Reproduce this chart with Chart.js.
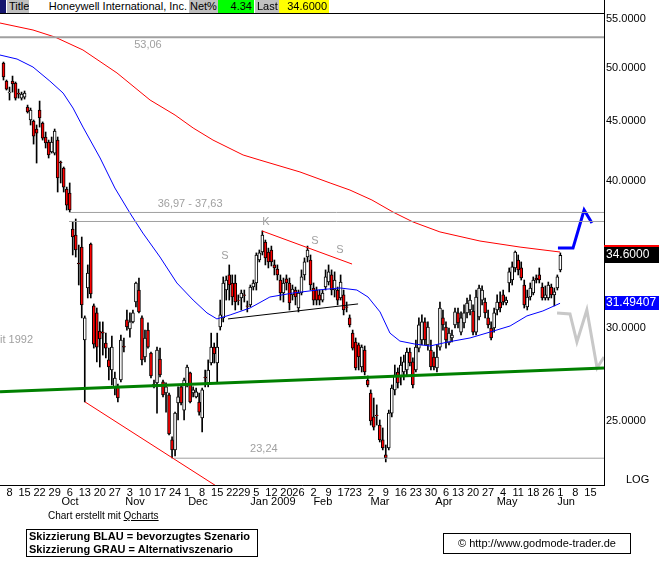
<!DOCTYPE html>
<html>
<head>
<meta charset="utf-8">
<script src="https://cdn.jsdelivr.net/npm/chart.js@4.4.0/dist/chart.umd.min.js"></script>
<style>
  body { margin: 0; background: #fff; font-family: "Liberation Sans", Arial, sans-serif; }
  #wrap { position: relative; width: 659px; height: 563px; overflow: hidden; background: #fff; }
  #c { position: absolute; left: 0; top: 0; }
  .tb { position: absolute; top: 0; height: 13px; font-size: 11px; line-height: 13px; white-space: nowrap; overflow: hidden; color: #000; }
  .gray { background: #c0c0c0; }
  .r { text-align: right; box-sizing: border-box; padding-right: 2px; }
  .abs { position: absolute; white-space: nowrap; color: #000; }
</style>
</head>
<body>
<div id="wrap">
  <canvas id="c" width="659" height="563" style="width:659px;height:563px"></canvas>

  <!-- quote bar -->
  <div class="tb" style="left:0;width:6px;background:#14146e"></div>
  <div class="tb gray" style="left:7px;width:22px;padding-left:2px;box-sizing:border-box">Title</div>
  <div class="tb r" style="left:29px;width:160px;background:#fff">Honeywell International, Inc.</div>
  <div class="tb gray" style="left:189px;width:29px;padding-left:1px;box-sizing:border-box">Net%</div>
  <div class="tb r" style="left:218px;width:36px;background:#00ff00">4.34</div>
  <div class="tb gray" style="left:255px;width:24px;padding-left:2px;box-sizing:border-box">Last</div>
  <div class="tb r" style="left:279px;width:50px;background:#ffff00">34.6000</div>
  <div class="abs" style="left:0;top:13px;width:604px;height:1px;background:#000"></div>

  <div class="abs" style="left:626px;top:473px;font-size:11px">LOG</div>
  <div class="abs" style="left:48px;top:510px;font-size:10px">Chart erstellt mit <u>Qcharts</u></div>
  <div class="abs" style="left:26px;top:529px;width:232px;height:28px;box-sizing:border-box;border:1px solid #000;font-size:11px;font-weight:bold;line-height:13px;padding-left:2px">Skizzierung BLAU = bevorzugtes Szenario<br>Skizzierung GRAU = Alternativszenario</div>
  <div class="abs" style="left:443px;top:533px;width:188px;height:21px;box-sizing:border-box;border:1px solid #000;font-size:11px;line-height:19px;text-align:center">&copy; http://www.godmode-trader.de</div>
</div>

<script>
// daily candles, Sep 4 2008 .. Jun 1 2009 (index = trading day)
const opens = [50.45,48.69,47.56,48.69,48.50,47.56,47.09,47.18,46.27,45.11,
  45.02,44.32,46.00,44.85,43.63,43.20,42.37,42.28,43.37,41.54,
  41.06,39.40,39.09,36.43,36.00,34.08,35.16,29.30,32.45,35.37,
  31.33,30.90,29.82,29.76,29.13,28.18,27.63,26.67,26.73,27.09,
  28.96,30.48,29.94,30.36,31.57,32.32,30.60,28.34,29.88,28.56,
  26.88,26.94,28.23,26.99,26.41,26.31,24.09,23.62,25.90,26.73,
  25.54,26.83,27.47,26.41,26.21,25.95,25.15,27.25,26.94,28.01,
  28.90,28.01,30.06,30.60,32.32,33.29,32.77,32.77,31.69,31.82,
  32.01,31.33,31.39,32.51,32.77,34.28,34.82,35.51,34.82,34.96,
  33.95,33.68,32.96,32.13,33.03,32.77,32.01,32.32,31.20,32.13,
  33.29,34.48,34.28,32.45,32.32,32.01,31.69,32.51,32.83,33.29,
  32.32,32.32,31.82,32.01,31.27,30.60,29.70,29.19,29.02,27.79,
  28.73,27.09,26.41,25.20,25.29,24.80,24.09,23.39,23.71,25.39,
  26.57,27.52,27.25,27.52,27.63,28.62,28.07,27.63,28.84,29.30,
  30.36,29.02,28.73,28.34,27.74,28.90,30.60,30.06,29.13,29.42,
  30.18,30.90,29.76,30.30,30.90,31.08,31.02,29.76,30.66,31.69,
  31.57,30.60,30.00,30.00,31.08,31.57,32.01,31.51,32.77,32.96,
  33.75,34.28,33.75,32.64,31.27,31.88,32.13,33.09,33.29,32.51,
  31.82,31.82,32.51,32.01,32.45,33.62];
const highs = [50.54,48.79,48.12,49.17,48.60,47.93,47.65,47.75,46.45,46.18,
  45.11,44.67,46.82,44.94,44.06,43.37,43.63,44.32,43.63,41.62,
  41.14,39.55,39.87,36.94,37.15,35.30,35.86,30.72,33.95,35.44,
  31.45,31.20,30.36,30.36,29.70,28.84,29.53,27.52,26.88,29.59,
  29.42,31.08,30.90,31.08,32.83,33.09,30.72,29.88,30.30,28.62,
  27.09,28.90,28.84,27.09,26.94,26.41,24.23,25.44,26.73,26.83,
  27.20,27.90,27.52,26.73,26.67,26.41,26.67,27.63,28.18,29.70,
  29.13,29.70,31.69,33.16,33.22,33.95,33.29,33.29,32.01,32.32,
  32.32,31.63,32.64,32.96,34.76,34.96,36.29,35.65,35.09,35.23,
  34.28,33.95,33.29,33.09,33.29,33.09,32.64,32.51,32.32,33.62,
  34.42,35.23,34.62,32.77,32.51,32.32,32.32,33.62,33.95,33.62,
  33.49,32.51,33.29,32.32,31.57,30.78,29.88,29.42,29.13,29.02,
  28.96,27.31,26.57,26.15,25.80,25.05,24.66,23.85,25.54,26.83,
  27.90,27.74,28.34,28.45,28.84,28.84,28.29,29.30,30.60,30.78,
  30.60,30.36,29.30,28.62,29.02,31.57,31.08,30.36,30.00,29.88,
  31.20,31.20,30.96,31.39,31.82,32.01,31.39,32.32,32.64,32.58,
  31.82,31.08,30.36,31.20,32.01,32.20,32.32,31.88,33.75,34.15,
  34.89,34.62,34.15,32.96,32.32,32.77,33.16,33.29,33.75,32.77,
  32.58,32.83,32.70,32.45,33.29,34.76];
const lows = [48.79,47.84,46.91,47.65,46.91,47.09,46.91,47.00,45.73,44.67,
  43.03,41.46,44.49,43.37,42.70,41.87,42.28,42.12,39.17,39.87,
  39.17,37.81,37.66,34.62,34.48,32.64,30.60,25.95,31.82,31.82,
  28.84,28.07,27.79,28.45,28.29,27.09,26.83,26.31,25.95,26.99,
  28.62,29.88,29.47,30.30,31.27,30.90,27.90,28.07,28.84,27.20,
  26.67,25.39,27.25,26.21,25.44,24.32,23.25,23.34,25.05,25.80,
  25.05,26.73,25.90,26.21,26.15,25.29,24.47,26.73,26.73,27.90,
  28.01,26.99,29.88,30.36,31.69,31.69,31.39,31.08,31.39,31.08,
  31.57,30.96,31.27,32.32,32.32,34.15,34.62,33.95,33.75,33.88,
  33.29,32.96,31.69,31.57,32.32,31.08,31.69,31.39,30.96,32.01,
  32.96,34.15,32.32,31.39,31.39,31.39,31.57,32.32,32.64,32.01,
  31.88,31.39,31.69,30.78,30.96,30.06,28.73,27.63,27.63,27.52,
  27.36,26.73,24.80,24.56,24.80,23.99,23.62,23.07,23.62,25.20,
  26.31,26.67,26.83,27.09,27.36,27.85,26.67,27.52,28.62,29.02,
  29.02,28.73,27.63,27.63,27.52,28.73,29.88,28.84,29.02,29.19,
  30.00,30.00,29.59,30.00,30.60,30.78,29.59,29.59,30.48,31.39,
  30.60,30.00,29.30,29.76,30.78,30.96,31.39,31.39,32.20,32.64,
  33.49,33.29,32.96,31.20,31.08,31.69,32.01,32.77,32.77,31.69,
  31.69,31.69,31.82,31.33,32.32,33.49];
const closes = [49.08,47.93,47.65,48.41,47.09,47.46,47.46,47.56,45.82,46.00,
  43.71,43.97,45.29,43.54,43.12,42.12,43.20,44.14,40.26,41.46,
  39.55,38.18,37.81,35.86,34.96,34.01,31.39,30.60,33.42,32.07,
  29.07,28.90,29.36,29.70,28.84,27.79,28.90,27.20,26.15,29.30,
  28.90,30.06,30.36,30.90,32.77,30.96,28.18,29.42,28.90,27.31,
  26.73,28.73,27.36,26.31,26.73,24.37,23.62,25.39,26.21,25.90,
  27.09,27.79,25.95,26.57,26.47,25.44,26.57,27.20,27.63,28.90,
  28.51,28.90,30.78,32.77,32.96,32.64,31.88,31.57,31.66,32.13,
  31.98,31.30,32.51,32.77,34.62,34.76,36.00,34.42,34.15,34.15,
  33.75,33.29,32.13,32.77,32.77,31.51,32.38,31.88,32.13,33.16,
  34.15,34.96,32.64,31.69,31.69,31.69,32.13,33.16,33.49,32.32,
  32.96,31.69,32.83,31.08,31.24,30.18,28.84,27.74,28.34,28.90,
  27.52,26.83,25.00,24.70,25.26,24.09,23.71,23.25,25.39,26.67,
  27.36,26.94,27.90,28.07,28.62,28.01,26.83,28.90,30.18,30.36,
  29.30,30.06,27.79,27.79,28.34,31.20,30.18,29.30,29.70,29.59,
  30.96,30.30,30.60,30.90,31.51,31.69,29.76,31.88,32.45,32.32,
  30.90,30.18,29.42,30.90,31.57,31.20,31.57,31.69,33.49,33.82,
  34.82,33.62,33.09,31.39,31.88,32.45,32.96,32.96,32.96,31.82,
  32.01,32.64,32.01,32.20,33.16,34.60];

// moving averages (day index, value)
const ma200Day = [-1.16,9.8,17.1,26.4,37.7,48.7,57,63,69.6,79.6,85.2,98.5,108.5,115.1,122.4,129.4,136,145,158.3,171.6,184.9];
const ma200Val = [54.56,53.82,53.08,51.75,49.47,46.91,45.55,44.41,43.37,42.12,41.70,40.74,39.87,39.32,38.56,37.66,36.94,36.22,35.58,35.16,34.82];
const ma50Day = [-1.16,4.5,9.8,15.4,19.8,23.1,26.4,32.1,37,42,46.3,52,57.6,63,67.6,70.9,75.3,81.9,88.5,96.2,104.2,111.8,117.4,121.1,125.1,128.4,131.7,136.7,141.7,147.7,155,161.6,168.3,173.9,179.2,184.9];
const ma50Val = [51.24,50.84,50.05,48.69,47.56,46.18,44.49,41.87,39.48,37.59,36.14,34.48,32.77,31.69,30.90,30.54,30.78,31.20,31.88,32.13,32.32,32.45,32.32,31.88,30.96,29.70,29.24,29.07,28.96,29.19,29.42,29.76,30.12,30.72,31.02,31.49];
const lastMa50 = 31.49407;

// drawn lines and sketches
const levelTop = 53.06, gapHigh = 37.63, gapLow = 36.97, levelLow = 23.24;
const supportDay = [-1.16, 199.5], supportVal = [26.47, 27.74];      // green
const fallDay = [27.1, 71], fallVal = [25.95, 21.98];                 // red, lower
const resistDay = [85.9, 115.8], resistVal = [36.29, 34.01];          // red, upper
const neckDay = [74.6, 117.8], neckVal = [30.54, 31.45];              // black
const blueDay = [184.2, 189.2, 192.9, 195.5], blueVal = [35.09, 35.09, 37.81, 36.86];
const grayDay = [183.9, 188.2, 190.5, 193.8, 197.2, 199.5], grayVal = [30.90, 30.84, 29.19, 31.08, 27.74, 28.34];

// axes
const weekDays = [2,7,12,17,22,27,32,37,42,47,52,57,61,66,71,76,80,84,89,94,98,103,108,113,117,122,127,132,137,142,147,151,156,161,166,171,176,181,185,190,195];
const weekLabels = ['8','15','22','29','6','13','20','27','3','10','17','24','1','8','15','22','29','5','12','20','26','2','9','17','23','2','9','16','23','30','6','13','20','27','4','11','18','26','1','8','15'];
const monthNames = ['Oct','Nov','Dec','Jan 2009','Feb','Mar','Apr','May','Jun'];
const monthDays = [22.1,43.7,64.6,89.5,106.1,125.1,146.3,167.3,186.9];
const yTicks = [25, 30, 40, 45, 50, 55];

const notes = [
  { t: '53,06', d: 48.0, v: 52.26 },
  { t: '36,97 - 37,63', d: 62.0, v: 38.26 },
  { t: '23,24', d: 86.5, v: 23.67 },
  { t: 'it 1992', d: -1.16, v: 29.30, left: true },
  { t: 'S', d: 73.6, v: 34.55 },
  { t: 'K', d: 87.2, v: 36.94 },
  { t: 'S', d: 103.5, v: 35.58 },
  { t: 'S', d: 111.8, v: 34.96 }
];

const FONT = '"Liberation Sans", Arial, sans-serif';
const xMin = -1.16, xMax = 199.5;

const pts = (xs, ys) => xs.map((x, i) => ({ x: x, y: ys[i] }));
const hline = (from, v) => pts([from, xMax], [v, v]);
function line(data, color, width) {
  return { type: 'line', data: data, borderColor: color, borderWidth: width, pointRadius: 0,
           fill: false, tension: 0, order: 1 };
}

const days = opens.map((_, i) => i);

const extras = {
  id: 'extras',
  afterDatasetsDraw(chart) {
    const { ctx, scales: { x, y } } = chart;
    ctx.save();
    ctx.font = '11px ' + FONT;
    ctx.fillStyle = '#a0a0a0';
    ctx.textBaseline = 'middle';
    notes.forEach(n => {
      ctx.textAlign = n.left ? 'left' : 'center';
      ctx.fillText(n.t, x.getPixelForValue(n.d), y.getPixelForValue(n.v));
    });
    ctx.restore();
  },
  afterDraw(chart) {
    const { ctx, scales: { x, y } } = chart;
    ctx.save();
    // month names under the week numbers
    ctx.font = '11px ' + FONT;
    ctx.fillStyle = '#000';
    ctx.textAlign = 'center';
    ctx.textBaseline = 'middle';
    monthNames.forEach((m, i) => ctx.fillText(m, x.getPixelForValue(monthDays[i]), 502));

    // last price + MA boxes on the price axis
    const x0 = chart.chartArea.right + 1, w = 659 - x0;
    let py = Math.round(y.getPixelForValue(closes[closes.length - 1]));
    ctx.fillStyle = '#ff0000';
    ctx.fillRect(x0 - 1, py - 10, w + 1, 2);
    ctx.fillStyle = '#000';
    ctx.fillRect(x0, py - 8, w, 16);
    ctx.font = '12px ' + FONT;
    ctx.textAlign = 'left';
    ctx.fillStyle = '#fff';
    ctx.fillText(closes[closes.length - 1].toFixed(4), x0 + 1, py);

    py = Math.round(y.getPixelForValue(lastMa50));
    ctx.fillStyle = '#0000ff';
    ctx.fillRect(x0, py - 7, w, 14);
    ctx.fillStyle = '#fff';
    ctx.fillText(String(lastMa50), x0 + 1, py);
    ctx.restore();
  }
};

new Chart(document.getElementById('c'), {
  type: 'bar',
  data: {
    datasets: [
      // wicks
      { type: 'bar', data: days.map(i => ({ x: i, y: [lows[i], highs[i]] })),
        backgroundColor: '#000', barThickness: 1, grouped: false, order: 3 },
      // bodies
      { type: 'bar', data: days.map(i => ({ x: i, y: [opens[i], closes[i]] })),
        backgroundColor: days.map(i => closes[i] < opens[i] ? '#ff0000' : '#ffffff'),
        borderColor: '#000', borderWidth: 1, borderSkipped: false,
        barThickness: 3, grouped: false, order: 2 },
      line(hline(xMin, levelTop), '#a0a0a0', 2),
      line(hline(21.76, gapHigh), '#a0a0a0', 1),
      line(hline(21.76, gapLow), '#a0a0a0', 1),
      line(hline(56.6, levelLow), '#a0a0a0', 1),
      line(pts(ma200Day, ma200Val), '#ff0000', 1),
      line(pts(ma50Day, ma50Val), '#0000ff', 1),
      line(pts(supportDay, supportVal), '#008000', 3),
      line(pts(fallDay, fallVal), '#ff0000', 1),
      line(pts(resistDay, resistVal), '#ff0000', 1),
      line(pts(neckDay, neckVal), '#000000', 1),
      line(pts(blueDay, blueVal), '#0000ff', 3),
      line(pts(grayDay, grayVal), '#c8c8c8', 3)
    ]
  },
  options: {
    responsive: false,
    animation: false,
    layout: { padding: 0 },
    plugins: { legend: { display: false }, tooltip: { enabled: false } },
    scales: {
      x: {
        type: 'linear', min: xMin, max: xMax, offset: false,
        grid: { display: false, drawTicks: false, offset: false },
        border: { display: true, color: '#000', width: 1 },
        afterFit: s => { s.height = 78; s.paddingLeft = 0; s.paddingRight = 0; },
        afterBuildTicks: s => { s.ticks = weekDays.map(v => ({ value: v })); },
        ticks: {
          autoSkip: false, maxRotation: 0, minRotation: 0, padding: 1, color: '#000',
          font: { family: FONT, size: 11 },
          callback: (v, i) => weekLabels[i]
        }
      },
      y: {
        type: 'logarithmic', position: 'right', min: 22.05, max: 57.08, bounds: 'data',
        grid: { display: false, drawTicks: false },
        border: { display: true, color: '#000', width: 1 },
        afterFit: s => { s.width = 55; s.paddingTop = 0; s.paddingBottom = 0; },
        afterBuildTicks: s => { s.ticks = yTicks.map(v => ({ value: v })); },
        ticks: {
          padding: 2, color: '#000', font: { family: FONT, size: 11 },
          callback: v => Number(v).toFixed(4)
        }
      }
    }
  },
  plugins: [extras]
});
</script>
</body>
</html>
